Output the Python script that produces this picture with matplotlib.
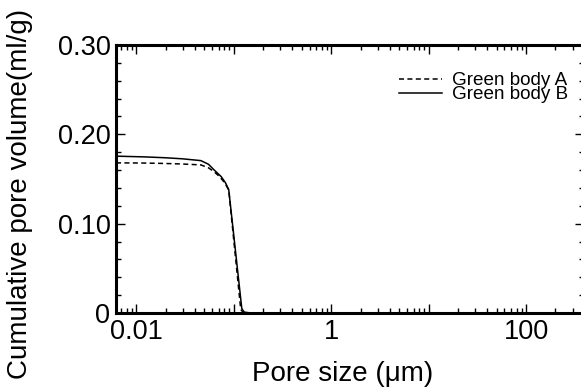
import numpy as np
import matplotlib
matplotlib.use("Agg")
import matplotlib.pyplot as plt
from matplotlib.ticker import LogLocator, FixedLocator, MultipleLocator, NullFormatter

# ── Data ───────────────────────────────────────────────────────────────
# pore size in um, cumulative pore volume in ml/g
size_a = [0.0062, 0.012, 0.02, 0.03, 0.046, 0.055, 0.063, 0.071, 0.079, 0.085, 0.089,
          0.118, 0.125, 0.14, 400]
vol_a = [0.168, 0.1678, 0.1673, 0.1667, 0.1657, 0.1625, 0.158, 0.1530, 0.147, 0.1415, 0.137,
         0.004, 0.0005, 0.0, 0.0]

size_b = [0.0062, 0.012, 0.02, 0.03, 0.046, 0.055, 0.063, 0.0742, 0.082, 0.0889,
          0.121, 0.128, 0.15, 400]
vol_b = [0.1755, 0.1747, 0.1737, 0.1725, 0.1705, 0.1665, 0.160, 0.1527, 0.146, 0.138,
         0.005, 0.001, 0.0, 0.0]

yticks = [0, 0.10, 0.20, 0.30]
ytick_labels = ["0", "0.10", "0.20", "0.30"]
xticks = [0.01, 0.1, 1, 10, 100]
xtick_labels = ["0.01", "", "1", "", "100"]

plt.rcParams["font.family"] = ["Liberation Sans", "DejaVu Sans"]

# ── Figure ─────────────────────────────────────────────────────────────
fig = plt.figure(figsize=(5.81, 3.88), dpi=100)
ax = fig.add_axes([0.1997, 0.1933, 0.805, 0.691])

ax.plot(size_a, vol_a, color="black", lw=1.1, ls=(0, (3.3, 2.2)), label="Green body A")
ax.plot(size_b, vol_b, color="black", lw=1.1, label="Green body B")

ax.set_xscale("log")
ax.set_xlim(0.0062, 390)
ax.set_ylim(0, 0.30)

ax.xaxis.set_major_locator(FixedLocator(xticks))
ax.xaxis.set_minor_locator(LogLocator(base=10, subs=np.arange(2, 10), numticks=20))
ax.xaxis.set_minor_formatter(NullFormatter())
ax.set_xticklabels(xtick_labels)

ax.set_yticks(yticks)
ax.set_yticklabels(ytick_labels)
ax.yaxis.set_minor_locator(MultipleLocator(0.02))

ax.tick_params(which="both", direction="in", top=True, right=True, labelsize=19.5, width=1.0)
ax.tick_params(which="major", length=6.5, pad=4)
ax.tick_params(which="minor", length=3.5)

for side in ax.spines.values():
    side.set_linewidth(2.2)

ax.set_xlabel("Pore size (μm)", fontsize=20)
ax.set_ylabel("Cumulative pore volume(ml/g)", fontsize=20)
ax.xaxis.set_label_coords(0.485, -0.179)
ax.yaxis.set_label_coords(-0.1775, 0.444)

leg = ax.legend(loc="upper right", frameon=False, fontsize=13.6, handlelength=2.25,
                handletextpad=0.53, labelspacing=-0.17, bbox_to_anchor=(1.003, 0.9625))

fig.savefig("out.png", dpi=100)
